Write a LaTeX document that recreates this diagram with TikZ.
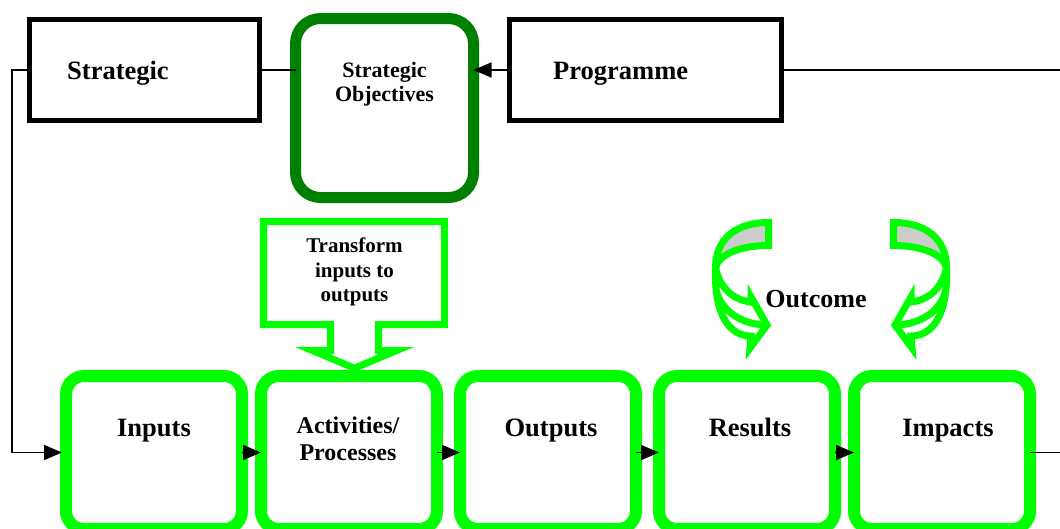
\documentclass[tikz,border=0pt]{standalone}
\usepackage{fontspec}
\setmainfont{Liberation Serif}
\usetikzlibrary{arrows.meta}
\definecolor{gbright}{HTML}{00FF00}
\definecolor{gdark}{HTML}{008000}
\definecolor{shadegray}{HTML}{CCCCCC}
\tikzset{
  blackbox/.style={draw=black, line width=5pt, minimum height=101pt, inner sep=0pt, outer sep=0pt},
  sobox/.style={draw=gdark, line width=11pt, rounded corners=25pt, minimum width=178pt, minimum height=179pt, inner sep=0pt, outer sep=0pt},
  gbox/.style={draw=gbright, line width=12pt, rounded corners=18pt, minimum width=176pt, minimum height=153pt, inner sep=0pt, outer sep=0pt},
  bigtxt/.style={font=\bfseries\fontsize{26.5}{30}\selectfont, inner sep=0pt},
  sotxt/.style={font=\bfseries\fontsize{22}{23.5}\selectfont, inner sep=0pt, align=center},
  cotxt/.style={font=\bfseries\fontsize{21}{24.5}\selectfont, inner sep=0pt, align=center},
  actxt/.style={font=\bfseries\fontsize{24}{27}\selectfont, inner sep=0pt, align=center},
  ln/.style={draw=black, line width=1.6pt},
  arr/.style={ln, -{Triangle[length=18pt,width=15pt]}},
  garrow/.style={draw=gbright, line width=7pt, line join=miter, miter limit=4},
  curvy/.pic={
    \draw[garrow, fill=shadegray] (-62.5,222.5) -- (-62.5,245.5)
      .. controls (-92,245.5) and (-113,255) .. (-115.5,268)
      .. controls (-115.5,238) and (-94,222.5) .. (-62.5,222.5) -- cycle;
    \draw[garrow, fill=white] (-115.5,268)
      .. controls (-117,316) and (-101,336) .. (-80,336)
      -- (-81,348) -- (-64,325) -- (-80,297) -- (-80,302)
      .. controls (-98,300) and (-111,288) .. (-115.5,268) -- cycle;
    \draw[garrow] (-115,290) .. controls (-109,312) and (-90,323) .. (-68,325);
  }
}
\begin{document}
\begin{tikzpicture}[x=1pt,y=-1pt]
\useasboundingbox (0,0) rectangle (1060,528);
\clip (0,0) rectangle (1060,528);

% top row
\node[blackbox, minimum width=230pt] (strat) at (144.5,70) {};
\node[blackbox, minimum width=272pt] (prog) at (645.5,70) {};
\node[sobox] (so) at (384.5,108) {};
\node[bigtxt, anchor=base west] (tstrat) at (67,79) {Strategic};
\node[bigtxt, anchor=base west] (tprog) at (553,79) {Programme};
\node[sotxt, anchor=north] (tso) at (384.5,62.5) {Strategic\\Objectives};

% bottom row
\node[gbox] (in)  at (154,452.5) {};
\node[gbox] (act) at (349,452.5) {};
\node[gbox] (out) at (548,452.5) {};
\node[gbox] (res) at (747,452.5) {};
\node[gbox] (imp) at (942,452.5) {};
\node[bigtxt, anchor=base] (tin)  at (154,436) {Inputs};
\node[actxt, anchor=north] (tact) at (348,417) {Activities/\\Processes};
\node[bigtxt, anchor=base] (tout) at (551,436) {Outputs};
\node[bigtxt, anchor=base] (tres) at (750,436) {Results};
\node[bigtxt, anchor=base] (timp) at (948,436) {Impacts};

% callout
\fill[gbright, even odd rule]
  (260,218) -- (448,218) -- (448,328) -- (382,328) -- (382,347) -- (414,347) -- (354.5,372)
  -- (295,347) -- (327,347) -- (327,328) -- (260,328) -- cycle
  (267,225) -- (441,225) -- (441,321) -- (375,321) -- (375,354) -- (379.25,354) -- (354.5,364.4)
  -- (329.75,354) -- (334,354) -- (334,321) -- (267,321) -- cycle;
\node[cotxt, anchor=north] (tcall) at (354.5,238) {Transform\\inputs to\\outputs};

% outcome
\node[bigtxt, font=\bfseries\fontsize{26}{30}\selectfont, anchor=base] (tout2) at (816,307) {Outcome};
\pic (cl) at (831,0) {curvy};
\pic[xscale=-1] (cr) at (831,0) {curvy};

% connectors
\coordinate (lc1) at (12,70);
\coordinate (lc2) at (12,452.5);
\coordinate (rc1) at (1064,70);
\coordinate (rc2) at (1064,452.5);
\draw[ln] (strat.east) -- (strat.east -| so.west);
\draw[arr] (prog.west) -- (prog.west -| so.east);
\draw[ln] (prog.east) -- (rc1);
\draw[arr] (strat.west) -- (lc1) -- (lc2) -- ([xshift=-4pt]in.west);
\draw[arr] (in.east) -- (act.west);
\draw[arr] (act.east) -- (out.west);
\draw[arr] (out.east) -- (res.west);
\draw[arr] (res.east) -- (imp.west);
\draw[ln] (imp.east) -- (rc2);
\end{tikzpicture}
\end{document}
